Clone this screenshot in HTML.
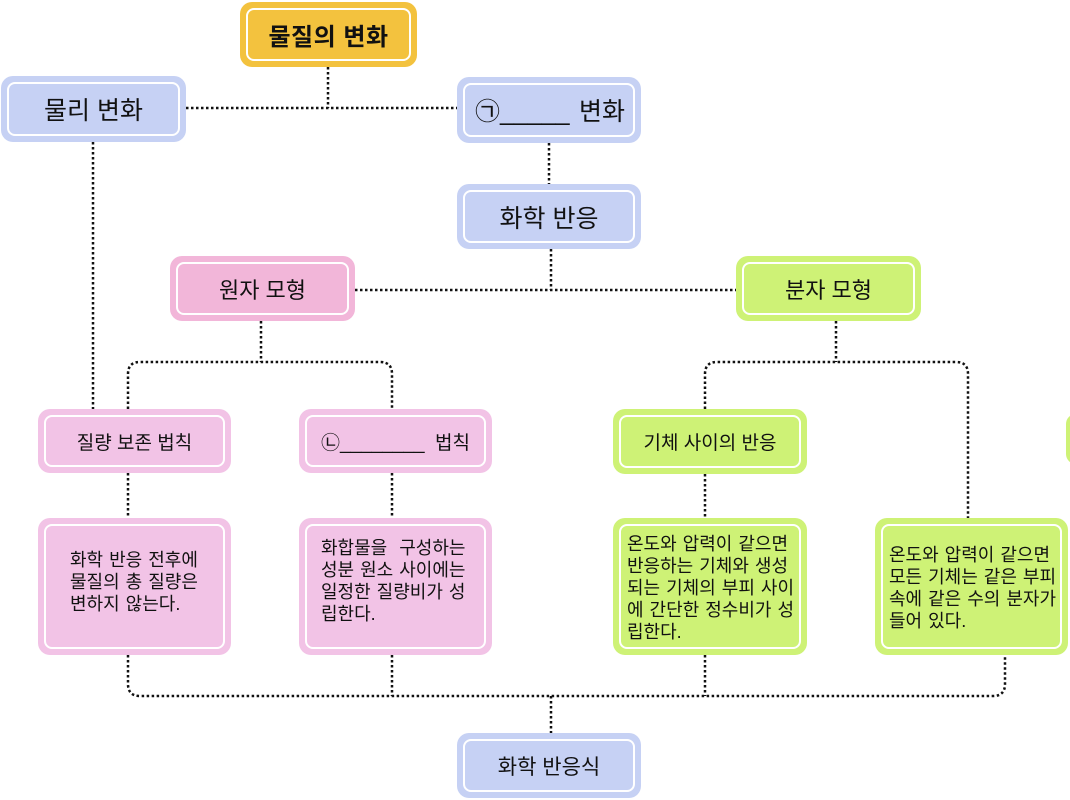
<!DOCTYPE html>
<html><head><meta charset="utf-8"><style>
body{margin:0;width:1070px;height:800px;background:#fff;position:relative;overflow:hidden;font-family:"Liberation Sans","Noto Sans CJK KR",sans-serif;color:#111}
.b{position:absolute;box-sizing:border-box;border-radius:12px}
.b .i{position:absolute;left:6px;top:6px;right:6px;bottom:6px;border:2px solid #fff;border-radius:8px;display:flex;align-items:center;justify-content:center;box-sizing:border-box}
.y{background:#f3c23e}.bl{background:#c6d1f4}.pk{background:#f2b6d9}.lp{background:#f2c3e6}.g{background:#cef276}
.t{position:absolute;font-size:18px;line-height:22px;letter-spacing:0;word-spacing:1px;white-space:nowrap}
svg{position:absolute;left:0;top:0}
</style></head><body>
<svg width="1070" height="800"><g fill="none" stroke="#111" stroke-width="2.5" stroke-dasharray="2.5 2.5">
<path d="M328 67V108M186 108H457"/>
<path d="M93 142V409"/>
<path d="M549 143V184"/>
<path d="M551 249V290M355 290H736"/>
<path d="M261 321V362M128 409V374Q128 362 140 362H380Q392 362 392 374V409"/>
<path d="M836 321V362M705 409V374Q705 362 717 362H956Q968 362 968 374V518"/>
<path d="M128 473V518M392 473V518M705 474V518"/>
<path d="M128 655V684Q128 696 140 696H993Q1005 696 1005 684V655M392 655V696M705 655V696M551 696V733"/>
</g></svg>
<div class="b y" style="left:240px;top:2px;width:177px;height:65px"><div class="i" style="font-size:24px;font-weight:bold;letter-spacing:0.5px">물질의 변화</div></div>
<div class="b bl" style="left:1px;top:76px;width:185px;height:66px"><div class="i" style="font-size:25px">물리 변화</div></div>
<div class="b bl" style="left:457px;top:77px;width:184px;height:66px"><div class="i" style="font-size:25px;justify-content:space-between;padding:0 8px 0 10px"><span>㉠<span style="letter-spacing:0">_____</span></span><span>변화</span></div></div>
<div class="b bl" style="left:457px;top:184px;width:184px;height:65px"><div class="i" style="font-size:25px">화학 반응</div></div>
<div class="b pk" style="left:170px;top:256px;width:185px;height:65px"><div class="i" style="font-size:22px">원자 모형</div></div>
<div class="b g" style="left:736px;top:256px;width:185px;height:65px"><div class="i" style="font-size:22px">분자 모형</div></div>
<div class="b lp" style="left:38px;top:409px;width:193px;height:64px"><div class="i" style="font-size:19px">질량 보존 법칙</div></div>
<div class="b lp" style="left:299px;top:409px;width:193px;height:64px"><div class="i" style="font-size:19px;justify-content:space-between;padding:0 14px 0 14px"><span>㉡<span>________</span></span><span>법칙</span></div></div>
<div class="b g" style="left:613px;top:409px;width:194px;height:65px"><div class="i" style="font-size:19px">기체 사이의 반응</div></div>
<div class="b lp" style="left:38px;top:518px;width:193px;height:137px"><div class="i"></div></div>
<div class="b lp" style="left:299px;top:518px;width:193px;height:137px"><div class="i"></div></div>
<div class="b g" style="left:613px;top:518px;width:194px;height:137px"><div class="i"></div></div>
<div class="b g" style="left:875px;top:518px;width:193px;height:137px"><div class="i"></div></div>
<div class="b g" style="left:1066px;top:414px;width:20px;height:50px"></div>
<div class="t" style="left:70px;top:549px">화학 반응 전후에<br>물질의 총 질량은<br>변하지 않는다.</div>
<div class="t" style="left:321px;top:537px">화합물을&nbsp; 구성하는<br>성분 원소 사이에는<br>일정한 질량비가 성<br>립한다.</div>
<div class="t" style="left:627px;top:533px">온도와 압력이 같으면<br>반응하는 기체와 생성<br>되는 기체의 부피 사이<br>에 간단한 정수비가 성<br>립한다.</div>
<div class="t" style="left:889px;top:544px">온도와 압력이 같으면<br>모든 기체는 같은 부피<br>속에 같은 수의 분자가<br>들어 있다.</div>
<div class="b bl" style="left:457px;top:733px;width:184px;height:65px"><div class="i" style="font-size:21px">화학 반응식</div></div>
</body></html>
